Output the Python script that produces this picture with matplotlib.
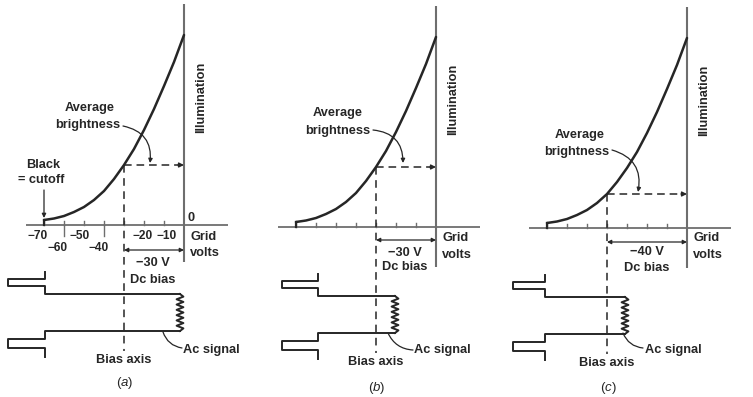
import numpy as np
import matplotlib.pyplot as plt

plt.rcParams['font.family'] = ['Liberation Sans', 'DejaVu Sans']
plt.rcParams['mathtext.fontset'] = 'custom'
plt.rcParams['mathtext.it'] = 'Liberation Sans:italic'

# transfer curve, grid volts vs. illumination (same tube in all panels)
GRID_VOLTS = [-70, -65, -60, -55, -50, -45, -40, -35, -30, -25, -20, -15, -10, -5, 0]
ILLUMINATION = [5, 6.5, 9, 13, 18, 25, 34, 46, 60, 76, 95, 116, 139, 163, 190]

TICK_VOLTS = [-70, -60, -50, -40, -30, -20, -10]
UPPER_LABELS = [-70, -50, -20, -10]
LOWER_LABELS = [-60, -40]

PANELS = ['a', 'b', 'c']
DC_BIAS = [-30, -30, -40]
BIAS_TEXT = ['\u221230 V', '\u221230 V', '\u221240 V']

# video signal drawn on the grid-volts axis: sync tip, blanking (black), peak
SYNC_TIP = [-88, -77, -87]
BLANKING = [-69.5, -59, -71]
PEAK = [-2, -20.5, -31]

# panel origins in figure pixels (where grid volts = 0, illumination = 0)
ORIGIN_PX = [(184, 225), (436, 227), (687, 228)]

W, H = 753, 397
DARK = '#262626'
GREY = '#6e6e6e'
FS = 9.2

fig = plt.figure(figsize=(W / 100, H / 100), dpi=100)


def make_axes(ox, oy):
    left = ox - 2 * 92
    ax = fig.add_axes([left / W, 0, 250 / W, 1])
    ax.set_xlim(-92, 33)
    ax.set_ylim(oy - H, oy)
    ax.axis('off')
    return ax


# per-panel label placement (volts, illumination units)
avg_pos = [(-47, 117, -48, 100), (-49, 114, -49, 96), (-53.5, 93, -55, 76)]
avg_arrow = [((-30.5, 99), (-17, 62)), ((-31.5, 97), (-16.5, 64)), ((-37.5, 78), (-24.5, 36))]
arrow_y = [-25, -13, -14]
bias_txt_pos = [(-15.5, -38, -55), (-15.5, -26, -40), (-20, -24, -40)]
grid_y = [(-12, -28), (-11, -28), (-10, -27)]
ac_pos = [(13.5, -125, (-1, -123), (-10.5, -107)),
          (3, -123, (-11.5, -123), (-24, -106)),
          (-7, -122, (-22, -120), (-32, -105))]
letter_y = [-158, -161, -160]
vaxis_bottom = [-37, -40, -40]
# tick label x positions for panel (a), minus sign hangs to the left
label_x = {-70: -73, -50: -52, -20: -20.5, -10: -8.5, -60: -63, -40: -42.5}

for i, p in enumerate(PANELS):
    ox, oy = ORIGIN_PX[i]
    ax = make_axes(ox, oy)
    bias = DC_BIAS[i]
    lvl = np.interp(bias, GRID_VOLTS, ILLUMINATION)

    # axes of the characteristic
    ax.plot([-79, 22], [0, 0], color=GREY, lw=1.3, solid_capstyle='butt')
    ax.plot([0, 0], [vaxis_bottom[i], 221], color=GREY, lw=1.5, solid_capstyle='butt')
    for v in TICK_VOLTS:
        ax.plot([v, v], [0, 4.5], color=GREY, lw=1.0)

    # curve
    ax.plot([GRID_VOLTS[0], GRID_VOLTS[0]], [0, ILLUMINATION[0]], color=DARK, lw=1.6)
    ax.plot(GRID_VOLTS, ILLUMINATION, color=DARK, lw=1.8, solid_capstyle='round')

    # operating point
    ax.plot([bias, bias], [lvl, -126], color=DARK, lw=1.1, dashes=(5, 3.6))
    ax.plot([bias, -2.5], [lvl, lvl], color=DARK, lw=1.1, dashes=(5, 3.2))
    ax.annotate('', xy=(0, lvl), xytext=(-3, lvl),
                arrowprops=dict(arrowstyle='-|>', color=DARK, lw=1.0,
                                mutation_scale=7, shrinkA=0, shrinkB=0))

    # average brightness
    ax1, ay1, ax2, ay2 = avg_pos[i]
    ax.text(ax1, ay1, 'Average', ha='center', va='center', fontsize=FS,
            fontweight='bold', color=DARK)
    ax.text(ax2, ay2, 'brightness', ha='center', va='center', fontsize=FS,
            fontweight='bold', color=DARK)
    (sx, sy), (ex, ey) = avg_arrow[i]
    ax.annotate('', xy=(ex, ey), xytext=(sx, sy),
                arrowprops=dict(arrowstyle='-|>', color=DARK, lw=0.9,
                                mutation_scale=6, shrinkA=0, shrinkB=0,
                                connectionstyle='arc3,rad=-0.45'))

    # dc bias
    ya = arrow_y[i]
    ax.annotate('', xy=(0, ya), xytext=(bias, ya),
                arrowprops=dict(arrowstyle='<|-|>', color=DARK, lw=0.9,
                                mutation_scale=6, shrinkA=0, shrinkB=0))
    bx, by1, by2 = bias_txt_pos[i]
    ax.text(bx, by1, BIAS_TEXT[i], ha='center', va='center', fontsize=FS,
            fontweight='bold', color=DARK)
    ax.text(bx, by2, 'Dc bias', ha='center', va='center', fontsize=FS,
            fontweight='bold', color=DARK)

    gy1, gy2 = grid_y[i]
    ax.text(3.2, gy1, 'Grid', ha='left', va='center', fontsize=FS,
            fontweight='bold', color=DARK)
    ax.text(3.2, gy2, 'volts', ha='left', va='center', fontsize=FS,
            fontweight='bold', color=DARK)
    ax.text(8.5, 128, 'Illumination', rotation=90, ha='center', va='center',
            fontsize=FS, fontweight='bold', color=DARK)

    # video signal
    s, b, pk = SYNC_TIP[i], BLANKING[i], PEAK[i]
    ax.plot([b, b, s, s, b, b, pk], [-47, -54, -54, -61, -61, -69, -69],
            color=DARK, lw=1.4)
    ax.plot([pk, b, b, s, s, b, b], [-106, -106, -114, -114, -123, -123, -132],
            color=DARK, lw=1.4)
    zy = np.linspace(-69, -106, 15)
    zx = pk + np.array([0 if k in (0, 14) else (1.7 if k % 2 else -1.7) for k in range(15)])
    ax.plot(zx, zy, color=DARK, lw=1.4)

    tx, ty, (csx, csy), (cex, cey) = ac_pos[i]
    ax.text(tx, ty, 'Ac signal', ha='center', va='center', fontsize=FS,
            fontweight='bold', color=DARK)
    ax.annotate('', xy=(cex, cey), xytext=(csx, csy),
                arrowprops=dict(arrowstyle='-', color=DARK, lw=0.9,
                                shrinkA=0, shrinkB=0,
                                connectionstyle='arc3,rad=-0.3'))

    ax.text(bias, -135, 'Bias axis', ha='center', va='center', fontsize=FS,
            fontweight='bold', color=DARK)
    ax.text(bias + 0.5, letter_y[i], '($\\it{%s}$)' % p, ha='center', va='center',
            fontsize=9.5, color=DARK)

    if p == 'a':
        for v in UPPER_LABELS:
            ax.text(label_x[v], -11, '\u2212%d' % -v, ha='center', va='center',
                    fontsize=8.6, fontweight='bold', color=DARK)
        for v in LOWER_LABELS:
            ax.plot([v, v], [0, -11], color=GREY, lw=1.0)
            ax.text(label_x[v], -22.5, '\u2212%d' % -v, ha='center', va='center',
                    fontsize=8.6, fontweight='bold', color=DARK)
        ax.text(1.5, 7, '0', ha='left', va='center', fontsize=FS,
                fontweight='bold', color=DARK)
        ax.text(-70.5, 60, 'Black', ha='center', va='center', fontsize=FS,
                fontweight='bold', color=DARK)
        ax.text(-71.5, 45, '= cutoff', ha='center', va='center', fontsize=FS,
                fontweight='bold', color=DARK)
        ax.annotate('', xy=(-70, 7), xytext=(-70, 35),
                    arrowprops=dict(arrowstyle='-|>', color=DARK, lw=0.9,
                                    mutation_scale=6, shrinkA=0, shrinkB=0))

fig.savefig('out.png', dpi=100, facecolor='white')
